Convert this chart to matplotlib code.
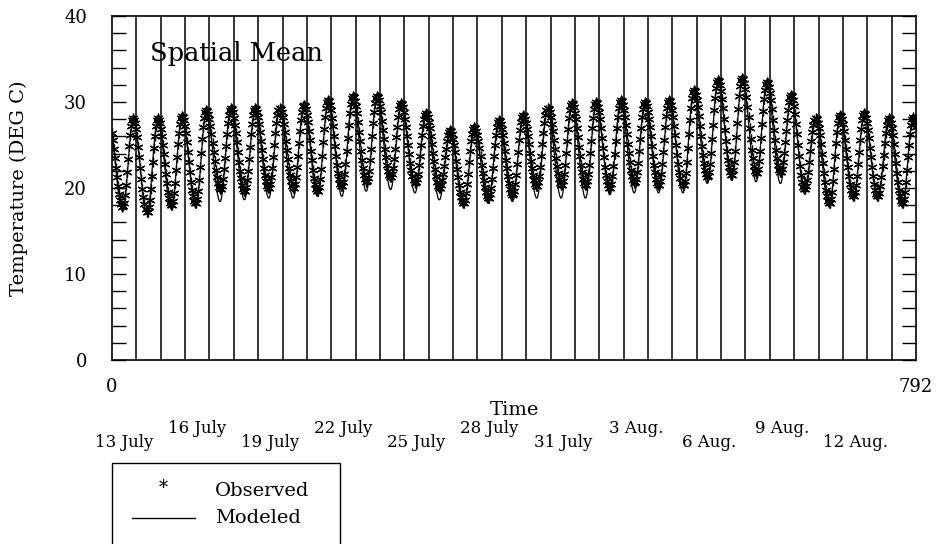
import numpy as np
import matplotlib
matplotlib.use("Agg")
import matplotlib.pyplot as plt
from matplotlib.patches import Rectangle
from matplotlib.lines import Line2D

# ---------------- data ----------------
n_days = 33
hours_total = 792
peak_hour = 21.0      # hour of day of daily maximum
trough_hour = 10.5    # hour of day of daily minimum

obs_max = [28.1, 28.1, 28.4, 29.1, 29.3, 29.3, 29.3, 29.7, 30.2, 30.7, 30.7,
           29.9, 28.7, 26.7, 27.1, 27.9, 28.5, 29.3, 29.9, 30.0, 30.2, 30.0,
           30.2, 31.4, 32.6, 32.8, 32.3, 30.8, 28.1, 28.5, 28.7, 28.1, 28.2]
obs_min = [17.8, 17.2, 18.0, 18.2, 19.8, 19.6, 20.0, 20.0, 19.6, 20.2, 20.7,
           21.2, 20.6, 20.0, 18.2, 18.8, 19.2, 20.2, 20.3, 20.3, 20.0, 20.6,
           20.3, 20.3, 21.3, 21.5, 21.7, 21.8, 19.8, 18.2, 19.0, 19.0, 18.2]
mod_max = [27.9, 27.9, 28.2, 28.9, 29.1, 29.1, 29.1, 29.5, 30.0, 30.5, 30.5,
           29.7, 28.5, 26.5, 26.9, 27.7, 28.3, 29.1, 29.7, 29.8, 30.0, 29.8,
           30.0, 31.2, 32.4, 32.6, 32.1, 30.6, 27.9, 28.3, 28.5, 27.9, 28.0]
mod_min = [17.3, 17.0, 17.6, 17.8, 18.4, 18.6, 18.8, 18.8, 19.0, 19.0, 19.6,
           19.8, 19.4, 18.6, 17.7, 18.2, 18.4, 18.8, 18.8, 18.8, 19.2, 19.4,
           19.4, 19.4, 20.5, 20.9, 20.7, 20.5, 19.4, 17.8, 18.6, 18.6, 17.8]
obs_first_peak, obs_last_trough = 27.5, 19.0
mod_first_peak, mod_last_trough = 27.3, 18.5

date_labels = ["13 July", "16 July", "19 July", "22 July", "25 July",
               "28 July", "31 July", "3 Aug.", "6 Aug.", "9 Aug.", "12 Aug."]
date_hours = [12, 84, 156, 228, 300, 372, 444, 516, 588, 660, 732]


def hourly_series(maxima, minima, first_peak, last_trough):
    t_ext = [-24 + peak_hour]
    v_ext = [first_peak]
    for d in range(n_days):
        t_ext += [24 * d + trough_hour, 24 * d + peak_hour]
        v_ext += [minima[d], maxima[d]]
    t_ext.append(24 * n_days + trough_hour)
    v_ext.append(last_trough)
    t_ext = np.array(t_ext)
    v_ext = np.array(v_ext)
    h = np.arange(0, hours_total + 1)
    idx = np.searchsorted(t_ext, h, side="right") - 1
    t0, t1 = t_ext[idx], t_ext[idx + 1]
    v0, v1 = v_ext[idx], v_ext[idx + 1]
    f = (h - t0) / (t1 - t0)
    return h, v0 + (v1 - v0) * (1 - np.cos(np.pi * f)) / 2


hrs, observed = hourly_series(obs_max, obs_min, obs_first_peak, obs_last_trough)
_, modeled = hourly_series(mod_max, mod_min, mod_first_peak, mod_last_trough)

# ---------------- figure ----------------
plt.rcParams['font.family'] = ['DejaVu Serif']
fig = plt.figure(figsize=(9.37, 5.44), dpi=100)
ax = fig.add_axes([112 / 937, 1 - 360 / 544, 804 / 937, 344 / 544])

ax.plot(hrs, modeled, color="black", lw=0.9, zorder=3)
ax.plot(hrs, observed, linestyle="none", marker=(6, 2, 0), markersize=7,
        markeredgewidth=0.9, color="black", zorder=4)

ax.set_xlim(0, hours_total)
ax.set_ylim(0, 40)

ax.set_xticks([0, hours_total])
ax.set_xticklabels(["0", "792"], fontsize=13)
ax.tick_params(axis="x", which="major", length=0, pad=13)
ax.set_xticks(np.arange(24, hours_total, 24), minor=True)
ax.tick_params(axis="x", which="minor", length=0)
ax.grid(which="minor", axis="x", color="black", lw=1.1)

ax.set_yticks([0, 10, 20, 30, 40])
ax.set_yticks(np.arange(0, 41, 2), minor=True)
ax.tick_params(axis="y", which="both", direction="in", length=10, width=1,
               left=True, right=True, labelsize=13, pad=18)
for s in ax.spines.values():
    s.set_linewidth(1.2)

ax.set_ylabel("Temperature (DEG C)", fontsize=14, labelpad=26)
ax.text(0.5, -0.145, "Time", transform=ax.transAxes, ha="center",
        va="center", fontsize=14)

ax.text(0.047, 0.89, "Spatial Mean", transform=ax.transAxes, fontsize=18.5,
        ha="left", va="center")

trans = ax.get_xaxis_transform()
for i, (lab, hh) in enumerate(zip(date_labels, date_hours)):
    yy = -0.241 if i % 2 == 0 else -0.198
    ax.text(hh, yy, lab, transform=trans, ha="center", va="center",
            fontsize=12, clip_on=False)

# legend box (extends past bottom of figure as in reference)
fig.patches.append(Rectangle((112 / 937, -0.1), 228 / 937, 0.1 + (1 - 463 / 544),
                             transform=fig.transFigure, fill=False,
                             edgecolor="black", lw=1.0))
fig.text(163 / 937, 1 - 488 / 544, "*", ha="center", va="center", fontsize=13)
fig.text(215 / 937, 1 - 491 / 544, "Observed", ha="left", va="center",
         fontsize=14)
fig.lines.append(Line2D([132 / 937, 195 / 937], [1 - 518 / 544, 1 - 518 / 544],
                        transform=fig.transFigure, color="black", lw=1.0))
fig.text(215 / 937, 1 - 518 / 544, "Modeled", ha="left", va="center",
         fontsize=14)

fig.savefig("out.png", dpi=100)
